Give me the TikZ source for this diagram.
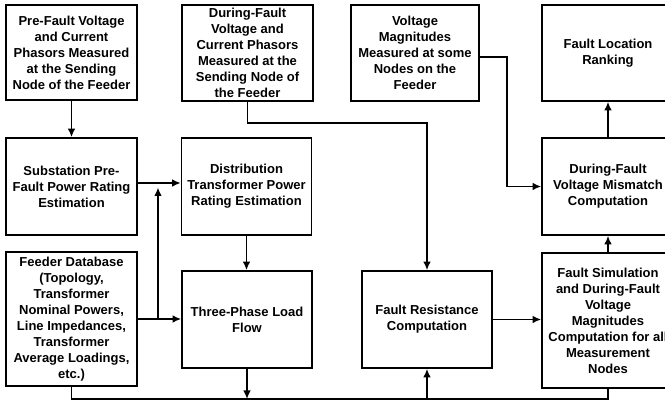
\documentclass[tikz,border=0pt]{standalone}
\usepackage{fontspec}
\setmainfont{Liberation Sans}
\usetikzlibrary{arrows.meta}
\begin{document}
\begin{tikzpicture}[x=1pt,y=-1pt,
  box/.style={draw=black, line width=1.6pt, fill=white, align=center, inner sep=0pt,
    font=\fontsize{13}{16}\selectfont\bfseries},
  arr/.style={line width=1.5pt, -{Latex[length=8.5pt,width=7.5pt]}},
  ln/.style={line width=1.5pt}]
\useasboundingbox (0,0) rectangle (665,403);
\clip (0,0) rectangle (665,403);
\fill[white] (0,0) rectangle (665,403);
% top row
\node[box, minimum width=131pt, minimum height=95pt] (A) at (71.5,52.5)
  {Pre-Fault Voltage\\and Current\\Phasors Measured\\at the Sending\\Node of the Feeder};
\node[box, minimum width=131pt, minimum height=96pt] (B) at (247.5,53)
  {During-Fault\\Voltage and\\Current Phasors\\Measured at the\\Sending Node of\\the Feeder};
\node[box, minimum width=128pt, minimum height=96pt] (C) at (415,53)
  {Voltage\\Magnitudes\\Measured at some\\Nodes on the\\Feeder};
\node[box, minimum width=132pt, minimum height=96pt] (D) at (608,53)
  {Fault Location\\Ranking};
% middle row
\node[box, minimum width=131pt, minimum height=97pt] (E) at (71.5,186.5)
  {Substation Pre-\\Fault Power Rating\\Estimation};
\node[box, minimum width=130pt, minimum height=97pt] (F) at (246.5,186.5)
  {Distribution\\Transformer Power\\Rating Estimation};
\node[box, minimum width=132pt, minimum height=97pt] (G) at (608,186.5)
  {During-Fault\\Voltage Mismatch\\Computation};
% bottom row
\node[box, minimum width=131pt, minimum height=134pt] (H) at (71.5,319)
  {Feeder Database\\(Topology,\\Transformer\\Nominal Powers,\\Line Impedances,\\Transformer\\Average Loadings,\\etc.)};
\node[box, minimum width=130pt, minimum height=97pt] (I) at (247,319.5)
  {Three-Phase Load\\Flow};
\node[box, minimum width=130pt, minimum height=97pt] (J) at (427,319.5)
  {Fault Resistance\\Computation};
\node[box, minimum width=132pt, minimum height=135pt] (K) at (608,320.5)
  {Fault Simulation\\and During-Fault\\Voltage\\Magnitudes\\Computation for all\\Measurement\\Nodes};
% helper coordinates
\coordinate (b1) at (247.5,123);
\coordinate (c1) at (507,57);
\coordinate (e1) at (158,183);
\coordinate (e2) at (158,187.5);
\coordinate (busy) at (0,399);
% connectors
\draw[arr] (A.south) -- (E.north);
\draw[arr] (B.south) -- (b1) -| (J.north);
\draw[arr] (C.east |- c1) -- (c1) |- (G.west);
\draw[arr] (E.east |- e1) -- (F.west |- e1);
\draw[arr] (H.east) -- (I.west |- H.east);
\draw[arr] (e1 |- H.east) -- (e2);
\draw[arr] (F.south) -- (F.south |- I.north);
\draw[ln] (H.south) -- (H.south |- busy) -| (K.south);
\draw[arr] (I.south) -- (I.south |- busy);
\draw[arr] (J.south |- busy) -- (J.south);
\draw[arr] (J.east) -- (K.west |- J.east);
\draw[arr] (K.north) -- (G.south);
\draw[arr] (G.north) -- (D.south);
\end{tikzpicture}
\end{document}
